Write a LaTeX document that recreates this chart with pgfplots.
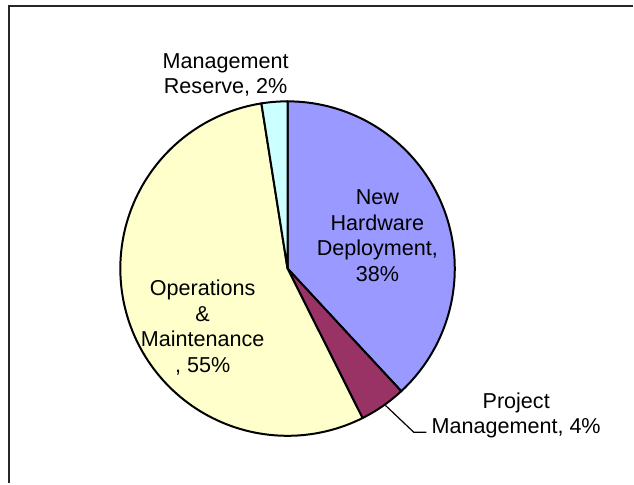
\documentclass[border=0pt]{standalone}
\usepackage{pgfplots}
\pgfplotsset{compat=1.18}
\usepackage{fontspec}
\setmainfont{Liberation Sans}
\definecolor{cNHD}{HTML}{9999FF}
\definecolor{cPM}{HTML}{993366}
\definecolor{cOM}{HTML}{FFFFCC}
\definecolor{cMR}{HTML}{CCFFFF}
% shares (percent), clockwise from 12 o'clock
\def\vNHD{38.1}
\def\vPM{4.5}
\def\vOM{54.9}
\def\vMR{2.5}
\def\cx{288}
\def\cy{215}
\def\rr{167.5}
\begin{document}
\begin{tikzpicture}
\pgfmathsetmacro\aA{0}
\pgfmathsetmacro\aB{\aA+3.6*\vNHD}
\pgfmathsetmacro\aC{\aB+3.6*\vPM}
\pgfmathsetmacro\aD{\aC+3.6*\vOM}
\pgfmathsetmacro\aE{\aD+3.6*\vMR}
\begin{axis}[width=634bp,height=484bp,scale only axis,
  xmin=0,xmax=634,ymin=0,ymax=484,hide axis,clip=false]
\path (axis cs:0,0) rectangle (axis cs:634,484);
\draw[line width=2bp,black!85] (axis cs:9.5,0) -- (axis cs:9.5,478) -- (axis cs:634,478);
\addplot[fill=cNHD,draw=black,line width=2bp,domain=\aA:\aB,samples=80,line join=round]
  ({\cx+\rr*sin(x)},{\cy+\rr*cos(x)}) -- (axis cs:\cx,\cy) -- cycle;
\addplot[fill=cPM,draw=black,line width=2bp,domain=\aB:\aC,samples=20,line join=round]
  ({\cx+\rr*sin(x)},{\cy+\rr*cos(x)}) -- (axis cs:\cx,\cy) -- cycle;
\addplot[fill=cOM,draw=black,line width=2bp,domain=\aC:\aD,samples=120,line join=round]
  ({\cx+\rr*sin(x)},{\cy+\rr*cos(x)}) -- (axis cs:\cx,\cy) -- cycle;
\addplot[fill=cMR,draw=black,line width=2bp,domain=\aD:\aE,samples=10,line join=round]
  ({\cx+\rr*sin(x)},{\cy+\rr*cos(x)}) -- (axis cs:\cx,\cy) -- cycle;
\draw[black,line width=1.2bp] (axis cs:386,78) -- (axis cs:414.5,51) -- (axis cs:427,51);
\begin{scope}[every node/.style={align=center,inner sep=0pt,font=\fontsize{21.6bp}{25.5bp}\selectfont}]
\node at (axis cs:226,409) {Management\\Reserve, 2\%};
\node at (axis cs:378,248) {New\\Hardware\\Deployment,\\38\%};
\node at (axis cs:203,156) {Operations\\\&\\Maintenance\\, 55\%};
\node at (axis cs:517,68) {Project\\Management, 4\%};
\end{scope}
\end{axis}
\end{tikzpicture}
\end{document}
